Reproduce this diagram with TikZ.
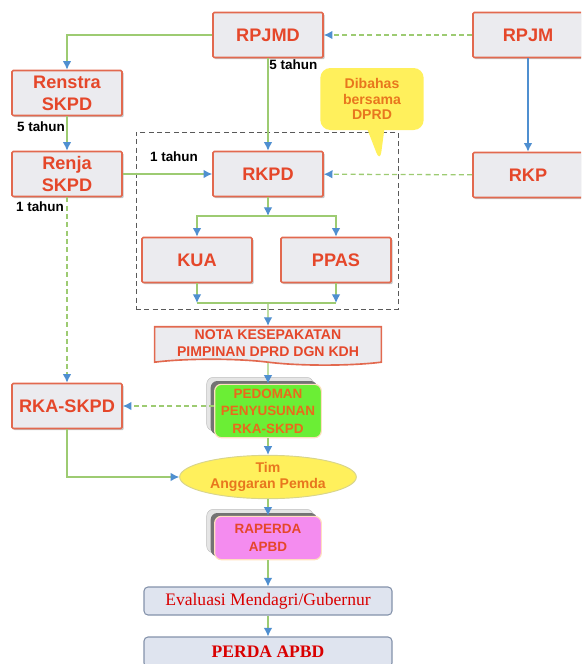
\documentclass[tikz,border=0pt]{standalone}
\usepackage{fontspec}
\setmainfont{Liberation Sans}
\newfontfamily\timesfont{Liberation Serif}
\usepackage{tikz}
\usetikzlibrary{arrows.meta,positioning,calc,shapes.geometric,shapes.symbols,shapes.callouts,shadows}

\definecolor{boxfill}{HTML}{EBEBEF}
\definecolor{boxline}{HTML}{E2694F}
\definecolor{boxtext}{HTML}{E5472A}
\definecolor{lnk}{HTML}{9DCB72}
\definecolor{arr}{HTML}{4F8FD0}
\definecolor{note}{HTML}{FFF05C}
\definecolor{notetext}{HTML}{E8761E}
\definecolor{pedfill}{HTML}{6BEE35}
\definecolor{rapfill}{HTML}{F48CEF}
\definecolor{evfill}{HTML}{DFE4EF}
\definecolor{evline}{HTML}{8492AA}

\begin{document}
\begin{tikzpicture}[
    x=0.3mm, y=-0.3mm,
    font=\bfseries,
    plan/.style={
        draw=boxline, line width=1.4pt, fill=boxfill, text=boxtext,
        align=center, inner sep=2pt, rounded corners=1pt,
        minimum width=33mm, minimum height=13.5mm,
        font=\bfseries\fontsize{15.5}{19}\selectfont,
        drop shadow={shadow xshift=0.5mm, shadow yshift=-0.5mm,
                     fill=black!45, opacity=0.5}},
    stack/.style 2 args={
        rounded corners=2mm, fill=#1, draw=orange!25, line width=1pt,
        text=#2, align=center, inner sep=2pt,
        minimum width=32mm, minimum height=16mm,
        font=\bfseries\fontsize{11.5}{15}\selectfont,
        copy shadow={shadow xshift=-2.4mm, shadow yshift=2.1mm,
                     fill=black!10, draw=black!25, line width=0.4pt},
        copy shadow={shadow xshift=-1.2mm, shadow yshift=1mm,
                     fill=black!55, draw=none}},
    eval/.style={
        rounded corners=1.2mm, draw=evline, line width=0.9pt, fill=evfill,
        text=red!85!black, minimum width=74.4mm, minimum height=8.4mm,
        font=\timesfont\fontsize{15}{18}\selectfont},
    yr/.style={font=\bfseries\fontsize{11.5}{13}\selectfont, inner sep=1pt},
    grp/.style={draw=black!65, line width=0.8pt,
        dash pattern=on 1.5mm off 1mm},
    link/.style={draw=lnk, line width=1.1pt,
        -{Latex[length=2.6mm, width=2.6mm, color=arr]}},
    dlink/.style={link, dash pattern=on 1.5mm off 1mm},
    line/.style={draw=lnk, line width=1.1pt}
]
\useasboundingbox (0,0) rectangle (581,664);
\clip (0,0) rectangle (581,664);

%% ══════════════════════════════ PLANNING ══════════════════════════════
\node[plan] (rpjmd) at (268,35) {RPJMD};
\node[plan] (rpjm) at (528,35) {RPJM};
\node[plan] (renstra) at (67,93) {Renstra\\SKPD};
\node[plan] (renja) at (67,174) {Renja\\SKPD};
\node[plan] (rkpd) at (268,174) {RKPD};
\node[plan] (rkp) at (528,175) {RKP};

%% Period labels
\node[yr, anchor=north west] (yr_rpjmd) at (rpjmd.south) {5 tahun};
\node[yr, anchor=north] (yr_renstra) at ($(renstra.south)+(-26,4)$) {5 tahun};
\node[yr] (yr_renja) at (174,157) {1 tahun};
\node[yr] (yr_rka) at (40,207) {1 tahun};

%% ══════════════════════════════ DPRD ZONE ══════════════════════════════
\node[grp, minimum width=78.6mm, minimum height=53.1mm] (dprd_zone)
    at (267,220.5) {};
\node[rectangle callout, rounded corners=3mm, fill=note, draw=none,
      text=notetext, align=center, font=\bfseries\fontsize{12}{13.5}\selectfont,
      minimum width=31mm, minimum height=18.6mm,
      callout absolute pointer={(380,162)}, callout pointer width=5mm]
    (dibahas) at (372,99) {Dibahas\\bersama\\DPRD};

\node[plan] (kua) at (197,260) {KUA};
\node[plan] (ppas) at (336,260) {PPAS};

\coordinate (split) at (268,216);
\coordinate (merge) at (268,303);

%% ══════════════════════════════ BUDGET ══════════════════════════════
\node[tape, tape bend top=none, tape bend bottom=out and in,
      draw=boxline, line width=1.4pt, fill=boxfill, text=boxtext,
      align=center, font=\bfseries\fontsize{12}{15}\selectfont,
      minimum width=68mm, minimum height=11.5mm, inner sep=1pt]
    (nota) at (268,343) {NOTA KESEPAKATAN\\PIMPINAN DPRD DGN KDH};

\node[stack={pedfill}{notetext!90!red}] (pedoman) at (268,411)
    {PEDOMAN\\PENYUSUNAN\\RKA-SKPD};
\node[plan] (rka) at (67,406) {RKA-SKPD};

\node[ellipse, fill=note, draw=olive!35, line width=0.8pt, text=notetext,
      align=center, font=\bfseries\fontsize{12}{14}\selectfont,
      minimum width=53mm, minimum height=13mm, inner sep=0pt]
    (tim) at (268,477) {Tim\\Anggaran Pemda};

\node[stack={rapfill}{boxtext}, minimum height=13mm] (raperda) at (268,538)
    {RAPERDA\\APBD};

\node[eval] (evaluasi) at (268,601) {Evaluasi Mendagri/Gubernur};
\node[eval, minimum height=9mm] (perda) at (268,652) {\bfseries PERDA APBD};

%% ══════════════════════════════ CONNECTORS ══════════════════════════════
\draw[link] (rpjmd.west) -| (renstra.north);
\draw[link] (rpjmd) -- (rkpd);
\draw[dlink] (rpjm) -- (rpjmd);
\draw[link, draw=arr] (rpjm) -- (rkp);
\draw[dlink] (rkp) -- (rkpd);
\draw[link] (renstra) -- (renja);
\draw[link] (renja) -- (rkpd);
\draw[dlink] (renja) -- (rka);

\draw[link] (rkpd) -- (split);
\draw[link] (split) -| (kua.north);
\draw[link] (split) -| (ppas.north);
\draw[link] (kua) -- (kua |- merge);
\draw[link] (ppas) -- (ppas |- merge);
\draw[line] (kua |- merge) -- (ppas |- merge);
\draw[link] (merge) -- (nota);

\draw[link] (nota) -- (pedoman);
\draw[dlink] (pedoman.west |- rka) -- (rka);
\draw[link] (pedoman) -- (tim);
\draw[link] (rka) |- (tim);
\draw[link] (tim) -- (raperda);
\draw[link] (raperda) -- (evaluasi);
\draw[link] (evaluasi) -- (perda);

\end{tikzpicture}
\end{document}
